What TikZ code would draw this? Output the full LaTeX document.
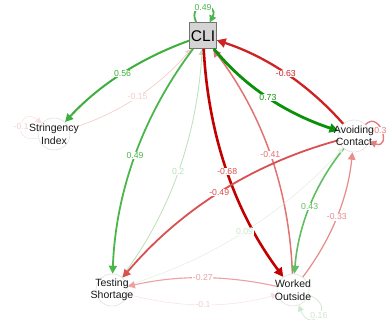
\documentclass[tikz,border=0pt]{standalone}
\usepackage{fontspec}
\setmainfont{Liberation Sans}
\usetikzlibrary{arrows.meta}
\definecolor{cA}{RGB}{10,145,10}
\definecolor{cB}{RGB}{60,175,60}
\definecolor{cC}{RGB}{75,182,75}
\definecolor{cD}{RGB}{95,190,95}
\definecolor{cE}{RGB}{185,225,185}
\definecolor{cF}{RGB}{205,232,205}
\definecolor{cG}{RGB}{222,238,222}
\definecolor{rA}{RGB}{195,0,0}
\definecolor{rB}{RGB}{205,35,35}
\definecolor{rC}{RGB}{218,80,80}
\definecolor{rD}{RGB}{225,115,115}
\definecolor{rE}{RGB}{228,125,125}
\definecolor{rF}{RGB}{232,140,140}
\definecolor{rG}{RGB}{236,160,160}
\definecolor{rH}{RGB}{246,205,205}
\definecolor{rI}{RGB}{249,222,222}
\begin{document}
\begin{tikzpicture}[x=1pt,y=-1pt,
  nd/.style={circle,draw=black!12,line width=0.6pt,minimum size=32pt,inner sep=0pt},
  txt/.style={font=\fontsize{10.5}{12.5}\selectfont,align=center,inner sep=0pt,text=black!90},
  lab/.style={font=\fontsize{8.7}{9}\selectfont,fill=white,inner sep=0.6pt},
  ah/.style={-{Triangle[length=#1pt,width=#1pt]}}
]
\useasboundingbox (0,0) rectangle (386,320);
% nodes
\node[draw=black!55,fill=black!17,minimum width=27pt,minimum height=26pt,inner sep=0pt,font=\fontsize{15.5}{16}\selectfont] (cli) at (203,35.7) {CLI};
\node[nd] (si) at (54,134) {};
\node[nd] (ac) at (354,136) {};
\node[nd] (ts) at (112,290) {};
\node[nd] (wo) at (293,290) {};
% edges
\draw[cB,line width=2pt,ah=8] (cli) .. controls (142,57.6) and (100,84) .. (si) coordinate[pos=0.5] (l1);
\draw[rH,line width=0.7pt,ah=6] (si) .. controls (121,113) and (159,86) .. (cli) coordinate[pos=0.5] (l2);
\draw[rI,line width=0.5pt,ah=6] (si) .. controls (10,145) and (20,105) .. (si) coordinate[pos=0.5] (l3);
\draw[cC,line width=1.8pt,ah=8] (cli) .. controls (142.7,115.7) and (115.7,191.7) .. (ts) coordinate[pos=0.5] (l4);
\draw[cE,line width=0.8pt,ah=6] (ts) .. controls (170.7,212.3) and (196.7,136.7) .. (cli) coordinate[pos=0.5] (l5);
\draw[rA,line width=2.6pt,ah=9] (cli) .. controls (208.3,136.7) and (235.3,212.7) .. (wo) coordinate[pos=0.5] (l6);
\draw[rD,line width=1.5pt,ah=8] (wo) .. controls (289.3,190) and (263.3,115.4) .. (cli) coordinate[pos=0.5] (l7);
\draw[cA,line width=2.8pt,ah=9] (cli) .. controls (245,86.7) and (285.4,113.3) .. (ac) coordinate[pos=0.5] (l8);
\draw[rB,line width=2.3pt,ah=9] (ac) .. controls (308.6,84.7) and (267,56.7) .. (cli) coordinate[pos=0.5] (l9);
\draw[cC,line width=1.8pt,ah=7] (cli) .. controls (186,2) and (220,2) .. (cli) coordinate[pos=0.5] (l10);
\draw[rE,line width=1.4pt,ah=7] (ac) .. controls (380,110) and (392,150) .. (ac) coordinate[pos=0.5] (l11);
\draw[rC,line width=1.8pt,ah=8] (ac) .. controls (251.3,164) and (179.7,210.4) .. (ts) coordinate[pos=0.5] (l12);
\draw[cD,line width=1.6pt,ah=8] (ac) .. controls (314.7,184.4) and (298.3,226) .. (wo) coordinate[pos=0.5] (l13);
\draw[rF,line width=1.25pt,ah=7.5] (wo) .. controls (332,238.4) and (348,197) .. (ac) coordinate[pos=0.5] (l14);
\draw[cG,line width=0.5pt,ah=5] (ts) .. controls (212.7,259.3) and (282.7,213.7) .. (ac) coordinate[pos=0.5] (l15);
\draw[rG,line width=1.1pt,ah=7] (wo) .. controls (227.3,275.3) and (178.7,274.7) .. (ts) coordinate[pos=0.5] (l16);
\draw[rI,line width=0.5pt,ah=6] (ts) .. controls (178.4,308) and (228,308.4) .. (wo) coordinate[pos=0.5] (l17);
\draw[cF,line width=0.7pt,ah=6] (wo) .. controls (338,305) and (310,335) .. (wo) coordinate[pos=0.5] (l18);
% edge labels
\node[lab,text=cB] (t1) at (l1) {0.56};
\node[lab,text=rH] (t2) at (l2) {-0.15};
\node[lab,text=rH] (t3) at (l3) {-0.1};
\node[lab,text=cC] (t4) at (l4) {0.49};
\node[lab,text=cE] (t5) at (l5) {0.2};
\node[lab,text=rC] (t6) at (l6) {-0.68};
\node[lab,text=rD] (t7) at (l7) {-0.41};
\node[lab,text=cA] (t8) at (l8) {0.73};
\node[lab,text=rB] (t9) at (l9) {-0.63};
\node[lab,text=cC] (t10) at (l10) {0.49};
\node[lab,text=rE] (t11) at (l11) {-0.38};
\node[lab,text=rC] (t12) at (l12) {-0.49};
\node[lab,text=cD] (t13) at (l13) {0.43};
\node[lab,text=rF] (t14) at (l14) {-0.33};
\node[lab,text=cF] (t15) at (l15) {0.09};
\node[lab,text=rG] (t16) at (l16) {-0.27};
\node[lab,text=rH] (t17) at (l17) {-0.1};
\node[lab,text=cF] (t18) at (l18) {0.16};
% node texts
\node[txt] (si-t) at (si) {Stringency\\Index};
\node[txt] (ac-t) at (ac) {Avoiding\\Contact};
\node[txt] (ts-t) at (ts) {Testing\\Shortage};
\node[txt] (wo-t) at (wo) {Worked\\Outside};
\end{tikzpicture}
\end{document}
